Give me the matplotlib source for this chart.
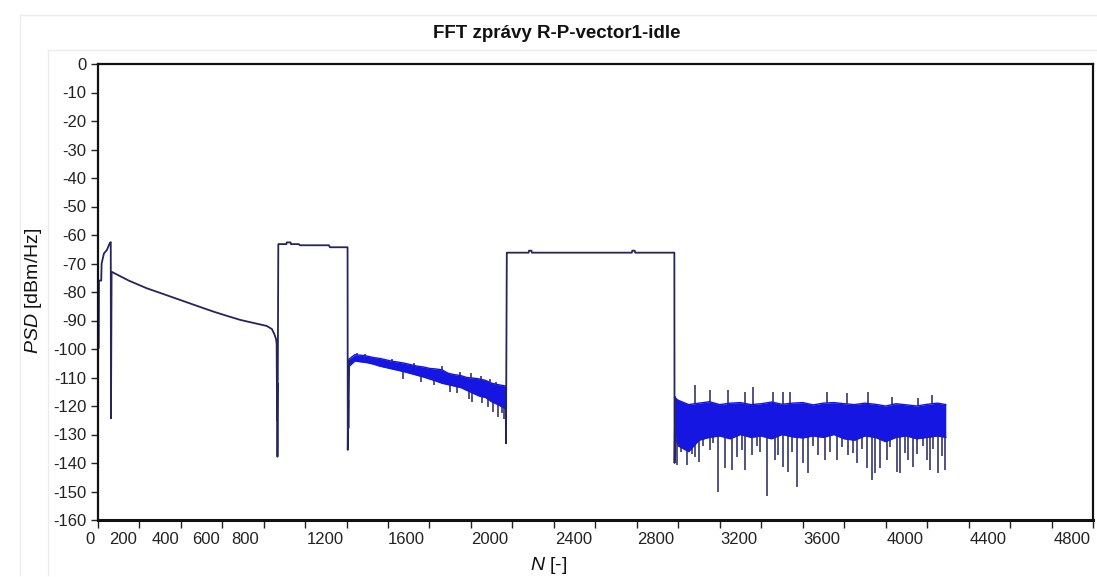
import matplotlib
matplotlib.use("Agg")
import matplotlib.pyplot as plt
import matplotlib.transforms as mtransforms
import numpy as np

plt.rcParams['font.family'] = ['Liberation Sans', 'DejaVu Sans']
plt.rcParams['mathtext.fontset'] = 'custom'
plt.rcParams['mathtext.it'] = 'Liberation Sans:italic'
plt.rcParams['mathtext.rm'] = 'Liberation Sans'
plt.rcParams['axes.unicode_minus'] = False

title = "FFT zprávy R-P-vector1-idle"

# hladka cast spektra (leva cast az k prvnimu sumu)
trace1_n = [5, 6, 17, 19, 30, 44, 58, 63, 64, 67, 150, 237, 320, 398, 480, 559, 620, 688,
            760, 815, 840, 852, 860, 863, 865, 866, 867, 868, 871, 910, 912, 930, 932, 970,
            975, 1115, 1120, 1205, 1206, 1208, 1209, 1213]
trace1_psd = [-99.5, -76.0, -76.0, -70.0, -66.5, -65.3, -62.9, -62.5, -124.3, -72.9, -76.0,
              -78.7, -80.8, -82.8, -84.9, -86.9, -88.3, -89.8, -91.0, -91.9, -93.0, -94.8,
              -96.5, -98.0, -125.0, -112.0, -137.8, -120.0, -63.2, -63.2, -62.6, -62.6, -63.2,
              -63.2, -63.6, -63.6, -64.3, -64.3, -135.4, -118.0, -127.8, -104.0]

# hladka cast mezi dvema sumovymi useky
trace2_n = [1968, 1969, 1973, 2078, 2080, 2092, 2094, 2576, 2578, 2590, 2592, 2781, 2782, 2785]
trace2_psd = [-120.0, -133.1, -66.2, -66.2, -65.5, -65.5, -66.2, -66.2, -65.5, -65.5, -66.2,
              -66.2, -140.0, -117.0]

# sumovy usek A - obalka
band_a_n = [1213, 1240, 1270, 1300, 1330, 1360, 1390, 1420, 1450, 1480, 1510, 1540, 1570,
            1600, 1630, 1660, 1690, 1720, 1750, 1780, 1810, 1840, 1870, 1900, 1930, 1968]
band_a_hi = [-103.5, -102.0, -102.2, -102.5, -103.0, -103.3, -103.8, -104.3, -104.6, -105.0,
             -105.5, -106.0, -106.3, -106.8, -107.0, -107.3, -108.5, -109.0, -109.3, -110.0,
             -110.2, -110.5, -111.0, -112.0, -112.5, -113.0]
band_a_lo = [-106.0, -104.2, -104.5, -104.8, -105.3, -106.0, -106.5, -107.0, -107.5, -108.0,
             -108.6, -109.2, -109.8, -110.5, -111.2, -112.0, -112.5, -113.0, -113.5, -114.5,
             -115.5, -116.5, -117.0, -118.5, -119.5, -121.0]
spk_a_dn_n = [1474, 1560, 1620, 1700, 1735, 1790, 1804, 1855, 1880, 1906, 1930, 1950, 1958]
spk_a_dn_psd = [-110.5, -111.5, -112.5, -115.0, -115.5, -117.5, -118.5, -119.0, -120.5,
                -122.0, -123.7, -122.6, -124.5]
spk_a_up_n = [1250, 1290, 1420, 1525, 1660, 1745, 1800, 1850, 1890, 1920]
spk_a_up_psd = [-101.5, -101.8, -103.5, -105.0, -106.0, -108.0, -108.5, -109.5, -110.5, -111.5]

# sumovy usek B - obalka
band_b_n = [2782, 2800, 2850, 2900, 2950, 3000, 3050, 3100, 3150, 3200, 3250, 3300, 3350,
            3400, 3450, 3500, 3550, 3600, 3650, 3700, 3750, 3800, 3850, 3900, 3950, 4000,
            4050, 4090]
band_b_hi = [-117.0, -118.0, -119.5, -119.0, -118.5, -119.5, -119.0, -118.8, -119.5, -119.2,
             -118.6, -119.4, -119.0, -118.8, -119.6, -119.0, -118.8, -119.2, -119.5, -119.0,
             -119.4, -120.0, -119.2, -119.6, -120.0, -119.4, -119.0, -119.5]
band_b_lo = [-130.0, -134.0, -136.0, -132.0, -131.0, -130.5, -131.5, -130.0, -131.0, -130.5,
             -131.5, -130.0, -130.8, -131.2, -130.5, -131.0, -130.0, -131.5, -132.0, -130.5,
             -131.0, -132.5, -131.0, -130.5, -131.5, -131.0, -130.5, -131.0]
spk_b_dn_n = [2792, 2811, 2841, 2865, 2881, 2901, 2921, 2953, 2969, 2993, 3025, 3058, 3082,
              3106, 3122, 3154, 3178, 3194, 3227, 3267, 3283, 3307, 3331, 3347, 3371, 3403,
              3427, 3451, 3475, 3508, 3532, 3564, 3588, 3620, 3644, 3661, 3685, 3709, 3733,
              3749, 3773, 3805, 3821, 3853, 3869, 3894, 3909, 3934, 3950, 3982, 3998, 4014,
              4030, 4054, 4071, 4087]
spk_b_dn_psd = [-140.7, -136.0, -140.7, -137.0, -137.8, -139.5, -134.0, -135.4, -133.0, -150.0,
                -141.9, -142.5, -137.8, -135.5, -142.5, -137.2, -134.0, -136.0, -151.5, -138.9,
                -137.2, -141.3, -143.1, -136.0, -148.3, -140.1, -143.6, -134.0, -137.2, -138.9,
                -136.0, -138.9, -134.5, -137.2, -136.5, -140.1, -135.0, -141.9, -146.0, -143.6,
                -141.9, -138.9, -134.5, -143.1, -143.6, -136.5, -138.9, -141.3, -137.0, -134.0,
                -138.9, -142.5, -135.0, -143.6, -137.5, -142.5]
spk_b_up_n = [2784, 2881, 2953, 3041, 3122, 3162, 3258, 3307, 3339, 3516, 3612, 3717, 3829,
              3958, 4022]
spk_b_up_psd = [-117.3, -112.6, -114.4, -114.4, -115.0, -113.2, -115.0, -115.0, -115.0, -115.0,
                -115.5, -115.0, -116.7, -117.3, -116.1]

yticks = list(range(0, -170, -10))
xticks = list(range(0, 4801, 200))
xlabels = ["0", "200", "400", "600", "800", "1200", "1600", "2000", "2400", "2800",
           "3200", "3600", "4000", "4400", "4800"]
xlabel_pos = [-37, 124, 325, 521, 710, 1096, 1490, 1892, 2294, 2693, 3090, 3492, 3894,
              4295, 4697]

NAVY = '#24245e'
BLUE = '#1616e2'

fig = plt.figure(figsize=(10.97, 5.77), dpi=100)
ax = fig.add_axes([97.7 / 1097, 1 - 520 / 577, 995.3 / 1097, 456 / 577])

for bn, bhi, blo, dn_n, dn_v, up_n, up_v in [
        (band_a_n, band_a_hi, band_a_lo, spk_a_dn_n, spk_a_dn_psd, spk_a_up_n, spk_a_up_psd),
        (band_b_n, band_b_hi, band_b_lo, spk_b_dn_n, spk_b_dn_psd, spk_b_up_n, spk_b_up_psd)]:
    ax.fill_between(bn, blo, bhi, color=BLUE, lw=0)
    ax.plot(bn, bhi, color=BLUE, lw=1)
    ax.plot(bn, blo, color=BLUE, lw=1)
    ax.vlines(dn_n, np.interp(dn_n, bn, blo), dn_v, color=NAVY, lw=1.1)
    ax.vlines(up_n, np.interp(up_n, bn, bhi), up_v, color=NAVY, lw=1.1)

ax.plot(trace1_n, trace1_psd, color=NAVY, lw=1.3)
ax.plot(trace2_n, trace2_psd, color=NAVY, lw=1.3)

ax.set_xlim(0, 4800)
ax.set_ylim(-160, 0)
ax.set_yticks(yticks)
ax.set_xticks(xticks)
ax.tick_params(axis='y', direction='out', length=5, width=1, labelsize=12, pad=3,
               color='#222222', labelcolor='#222222')
ax.tick_params(axis='x', direction='out', length=6, width=1, labelbottom=False,
               color='#222222')
for s in ax.spines.values():
    s.set_color('#111111')
    s.set_linewidth(1.6)
ax.spines['bottom'].set_linewidth(2.2)

trans = mtransforms.blended_transform_factory(ax.transData, ax.transAxes)
for p, lab in zip(xlabel_pos, xlabels):
    ax.text(p, -20 / 456, lab, transform=trans, ha='center', va='center', fontsize=12,
            color='#222222')

fig.text(557 / 1097, 1 - 33 / 577, title, ha='center', va='center', fontsize=13.5,
         weight='bold', color='#111111')
fig.text(33 / 1097, 1 - 291 / 577, r"$PSD$ [dBm/Hz]", rotation=90, ha='center',
         va='center', fontsize=14, color='#111111')
fig.text(549 / 1097, 1 - 565 / 577, r"$N$ [-]", ha='center', va='center', fontsize=14,
         color='#111111')

# slabe ramecky okolo popisku
fc = '#ececec'
fig.add_artist(plt.Line2D([20 / 1097, 1], [1 - 15 / 577, 1 - 15 / 577], color=fc, lw=1))
fig.add_artist(plt.Line2D([48 / 1097, 1], [1 - 50 / 577, 1 - 50 / 577], color=fc, lw=1))
fig.add_artist(plt.Line2D([20 / 1097, 20 / 1097], [1 - 15 / 577, 1 - 575 / 577], color=fc, lw=1))
fig.add_artist(plt.Line2D([48 / 1097, 48 / 1097], [1 - 50 / 577, 1 - 575 / 577], color=fc, lw=1))

fig.savefig("out.png", dpi=100)
